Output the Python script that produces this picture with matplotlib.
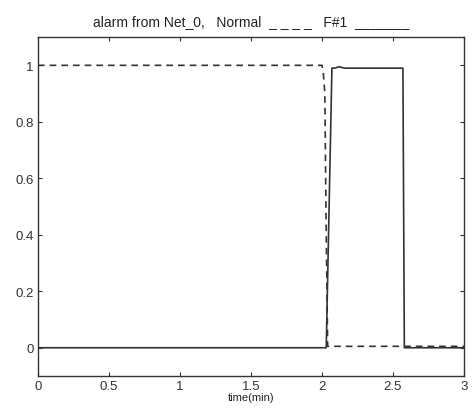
import matplotlib
matplotlib.use("Agg")
import matplotlib.pyplot as plt

plt.rcParams['font.family'] = ['Liberation Sans', 'DejaVu Sans']

# Normal (dashed)
t_normal = [0.0, 2.00, 2.01, 2.02, 2.03, 2.04, 3.0]
v_normal = [1.0, 1.0, 0.97, 0.90, 0.40, 0.005, 0.005]

# F#1 (solid)
t_fault = [0.0, 2.03, 2.07, 2.09, 2.12, 2.16, 2.57, 2.58, 3.0]
v_fault = [0.0, 0.0, 0.99, 0.99, 0.995, 0.99, 0.99, 0.0, 0.0]

xticks = [0, 0.5, 1, 1.5, 2, 2.5, 3]
xtick_labels = ["0", "0.5", "1", "1.5", "2", "2.5", "3"]
yticks = [0, 0.2, 0.4, 0.6, 0.8, 1]
ytick_labels = ["0", "0.2", "0.4", "0.6", "0.8", "1"]

fig = plt.figure(figsize=(4.72, 4.14), dpi=100)
ax = fig.add_axes([0.0805, 0.0894, 0.9025, 0.8186])

ax.plot(t_normal, v_normal, color="#333333", linestyle=(0, (4, 3)), linewidth=1.2)
ax.plot(t_fault, v_fault, color="#333333", linestyle="-", linewidth=1.2)

ax.set_xlim(0, 3)
ax.set_ylim(-0.1, 1.1)
ax.set_xticks(xticks)
ax.set_xticklabels(xtick_labels)
ax.set_yticks(yticks)
ax.set_yticklabels(ytick_labels)
ax.tick_params(direction="in", top=True, right=True, length=3, labelsize=9.5,
               colors="#333333", pad=3)
for s in ax.spines.values():
    s.set_color("#333333")
    s.set_linewidth(1.0)

ax.set_xlabel("time(min)", fontsize=8, color="#222222", labelpad=0)
ax.set_title("alarm from Net_0,   Normal  _ _ _ _   F#1  _______", fontsize=10,
             color="#222222", pad=9)

fig.savefig("out.png", dpi=100)
